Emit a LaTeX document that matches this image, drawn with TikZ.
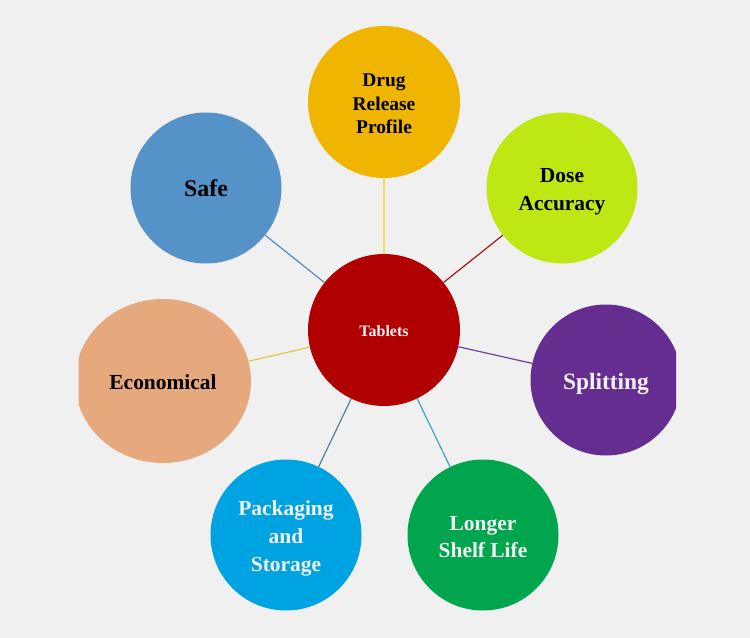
\documentclass[tikz,border=0pt]{standalone}
\usepackage{fontspec}
\setmainfont{Liberation Serif}
\usetikzlibrary{shapes.geometric}
\definecolor{bgc}{HTML}{F0F0F0}
\definecolor{cdrug}{HTML}{EFB500}
\definecolor{csafe}{HTML}{5592C8}
\definecolor{cdose}{HTML}{BEE814}
\definecolor{ctab}{HTML}{B10000}
\definecolor{cecon}{HTML}{E6A87D}
\definecolor{csplit}{HTML}{662D91}
\definecolor{cpack}{HTML}{00A3E1}
\definecolor{clong}{HTML}{00A54E}
\definecolor{ltxt}{HTML}{F2F2F2}
\definecolor{ldrug}{HTML}{F0E060}
\definecolor{lsafe}{HTML}{588CB8}
\definecolor{ldose}{HTML}{A01C1C}
\definecolor{lecon}{HTML}{E0C84A}
\definecolor{lsplit}{HTML}{6B3FA0}
\definecolor{lpack}{HTML}{4F7FA8}
\definecolor{llong}{HTML}{3AA5C8}
\tikzset{
  bubble/.style={circle, minimum size=151bp, inner sep=0pt, align=center, font=\bfseries},
  link/.style={line width=1.2bp}
}
\newcommand{\tstrut}[1]{\rule{0pt}{#1}}
\begin{document}
\begin{tikzpicture}[x=1bp,y=-1bp]
\useasboundingbox (0,0) rectangle (750,638);
\fill[bgc] (0,0) rectangle (750,638);
\begin{scope}
\clip (78.5,0) rectangle (676,638);
\node[bubble, fill=ctab, text=ltxt, minimum size=152bp, font=\bfseries\fontsize{16}{19}\selectfont] (tab) at (384,330) {\tstrut{13bp}Tablets};
\node[bubble, fill=cdrug, minimum size=152bp, font=\bfseries\fontsize{19.5}{23.5}\selectfont] (drug) at (384,102) {\tstrut{17bp}Drug\\Release\\Profile};
\node[bubble, fill=csafe, font=\bfseries\fontsize{24}{28}\selectfont] (safe) at (206,188) {\tstrut{18bp}Safe};
\node[bubble, fill=cdose, font=\bfseries\fontsize{21.5}{27.5}\selectfont] (dose) at (562,188) {\tstrut{22bp}Dose\\Accuracy};
\node[ellipse, fill=cecon, minimum width=176bp, minimum height=164bp, inner sep=0pt, font=\bfseries\fontsize{21.5}{26}\selectfont] (econ) at (163,381) {\tstrut{18bp}Economical};
\node[bubble, fill=csplit, text=ltxt, font=\bfseries\fontsize{23.5}{28}\selectfont] (split) at (606,380) {\tstrut{25bp}Splitting};
\node[bubble, fill=cpack, text=ltxt, font=\bfseries\fontsize{21.5}{28}\selectfont] (pack) at (286,535) {\tstrut{22.5bp}Packaging\\and\\Storage};
\node[bubble, fill=clong, text=ltxt, font=\bfseries\fontsize{21.5}{26.5}\selectfont] (long) at (483,535) {\tstrut{18bp}Longer\\Shelf Life};
\end{scope}
\draw[link, ldrug] (tab) -- (drug);
\draw[link, lsafe] (tab) -- (safe);
\draw[link, ldose] (tab) -- (dose);
\draw[link, lecon] (tab) -- (econ);
\draw[link, lsplit] (tab) -- (split);
\draw[link, lpack] (tab) -- (pack);
\draw[link, llong] (tab) -- (long);
\end{tikzpicture}
\end{document}
